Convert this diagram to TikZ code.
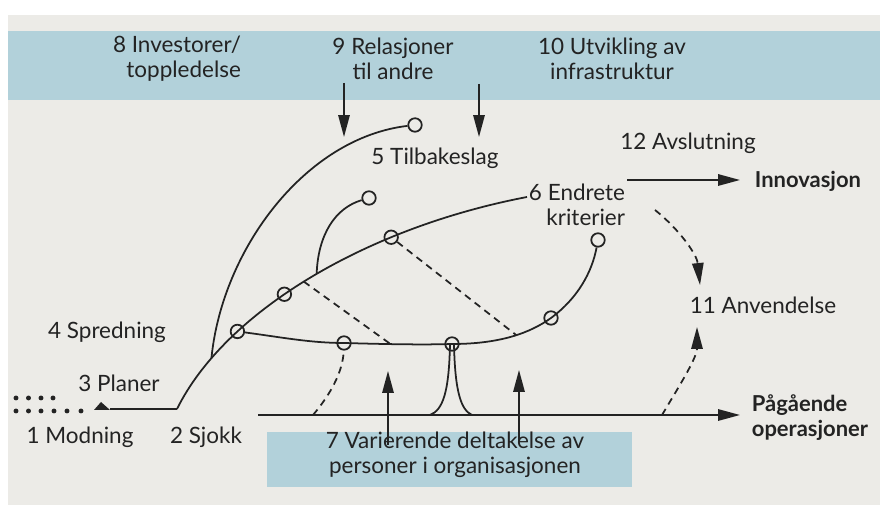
\documentclass[tikz,border=0pt]{standalone}
\usepackage{fontspec}
\setmainfont{Lato}
\usetikzlibrary{arrows.meta,calc}
\definecolor{pagebg}{RGB}{236,235,231}
\definecolor{bandblue}{RGB}{178,209,218}
\definecolor{inkdark}{RGB}{35,35,35}

\begin{document}
\begin{tikzpicture}[
    x=0.02cm, y=-0.02cm,
    >={Triangle[length=12.5pt, width=6.5pt]},
    line width=1pt, color=inkdark,
    lbl/.style={text=inkdark, font=\fontsize{12.8}{14.2}\selectfont, align=center, inner sep=0pt},
    boldlbl/.style={lbl, font=\fontsize{12.5}{14.2}\selectfont\bfseries},
    ring/.style={circle, draw=inkdark, line width=1pt, minimum size=0.27cm, inner sep=0pt},
    dashline/.style={dash pattern=on 4pt off 3pt}
]

% Page & bands
\useasboundingbox (0,0) rectangle (880,509);
\fill[white] (0,0) rectangle (880,509);
\fill[pagebg] (8,15) rectangle (880,505);
\fill[bandblue] (8,31) rectangle (880,100);
\fill[bandblue] (267,432) rectangle (632,487);

% Labels
\node[lbl, align=right] (t8) at (177,59) {8 Investorer/\\toppledelse};
\node[lbl] (t9) at (393,59) {9 Relasjoner\\til andre};
\node[lbl] (t10) at (612,59) {10 Utvikling av\\infrastruktur};
\node[lbl] (t5) at (435,158) {5 Tilbakeslag};
\node[lbl] (t12) at (688,143) {12 Avslutning};
\node[boldlbl, anchor=west] (inno) at (754,181) {Innovasjon};
\node[lbl, align=right] (t6) at (577,205) {6 Endrete\\kriterier};
\node[lbl] (t11) at (763,305) {11 Anvendelse};
\node[boldlbl, anchor=west, align=left] (ops) at (751,418) {Pågående\\operasjoner};
\node[lbl] (t7) at (455,455) {7 Varierende deltakelse av\\personer i organisasjonen};
\node[lbl] (t1) at (80,437) {1 Modning};
\node[lbl] (t2) at (206,437) {2 Sjokk};
\node[lbl] (t3) at (119,383) {3 Planer};
\node[lbl] (t4) at (107,332) {4 Spredning};

% Fixed points
\coordinate (corner) at (177,409);
\coordinate (spineend) at (527,197);
\coordinate (leftend) at (110,409);
\coordinate (basestart) at (258,415);
\coordinate (baseend) at (740,415);
\coordinate (dfoot) at (313,415);
\coordinate (spikeL) at (430,415);
\coordinate (spikeR) at (472,415);
\coordinate (usefoot) at (662,415);
\coordinate (usetip) at (697,327);
\coordinate (endfoot) at (655,210);
\coordinate (endtip) at (700,285);
\coordinate (innostart) at (627,180);
\coordinate (innotip) at (740,180);

% Dots (1 Modning)
\foreach \dx in {16,28.5,41,53}
    \fill (\dx,398) circle (1.4pt);
\foreach \dx in {16,28.5,41,54,67,81}
    \fill (\dx,411) circle (1.4pt);

% Plans line and its head
\draw (corner) -- (leftend);
\fill (94,410) -- (101,402) -- (110,410) -- cycle;

% Main spine
\draw (corner) .. controls (225,312) and (365,228) .. (spineend)
    coordinate[pos=0.18] (arcfoot)
    node[ring, pos=0.28] (c1) {}
    node[ring, pos=0.43] (c2) {}
    coordinate[pos=0.485] (dashA)
    coordinate[pos=0.52] (branchfoot)
    node[ring, pos=0.705] (c3) {};

% Setback arc and branch
\node[ring] (top5) at (415,125) {};
\draw (arcfoot) .. controls (222,250) and (305,138) .. (top5);
\node[ring] (tip4) at (369,198) {};
\draw (branchfoot) .. controls (318,235) and (335,208) .. (tip4);

% Lower curve
\node[ring] (c4) at (344,343) {};
\node[ring] (c5) at (452,344) {};
\node[ring] (c6) at (551,318) {};
\node[ring] (c7) at (598,240) {};
\draw (c1) .. controls (280,337) and (310,343) .. (c4.center)
    .. controls (380,344) and (420,345) .. (c5.center) coordinate[pos=0.42] (dashB)
    .. controls (500,344) and (530,333) .. (c6.center) coordinate[pos=0.55] (dashD)
    .. controls (578,298) and (592,272) .. (c7);

% Dashed links
\draw[dashline] (dashA) -- (dashB);
\draw[dashline] (c3) -- (dashD);
\draw[dashline] (dfoot) .. controls (330,395) and (343,372) .. (c4);

% Spike
\draw (spikeL) .. controls (443,410) and (449,392) .. (450,344);
\draw (spikeR) .. controls (461,410) and (455,392) .. (454,344);

% Ongoing operations baseline
\draw[->] (basestart) -- (baseend);

% Arrows from bands
\draw[->] (344,83) -- (344,137);
\draw[->] (479,84) -- (479,137);
\draw[->] (388,445) -- (388,371);
\draw[->] (519,441) -- (519,370);

% Closing / application
\draw[->] (innostart) -- (innotip);
\draw[dashline, ->] (endfoot) .. controls (680,230) and (697,255) .. (endtip);
\draw[dashline, ->] (usefoot) .. controls (678,388) and (697,358) .. (usetip);

\end{tikzpicture}
\end{document}
